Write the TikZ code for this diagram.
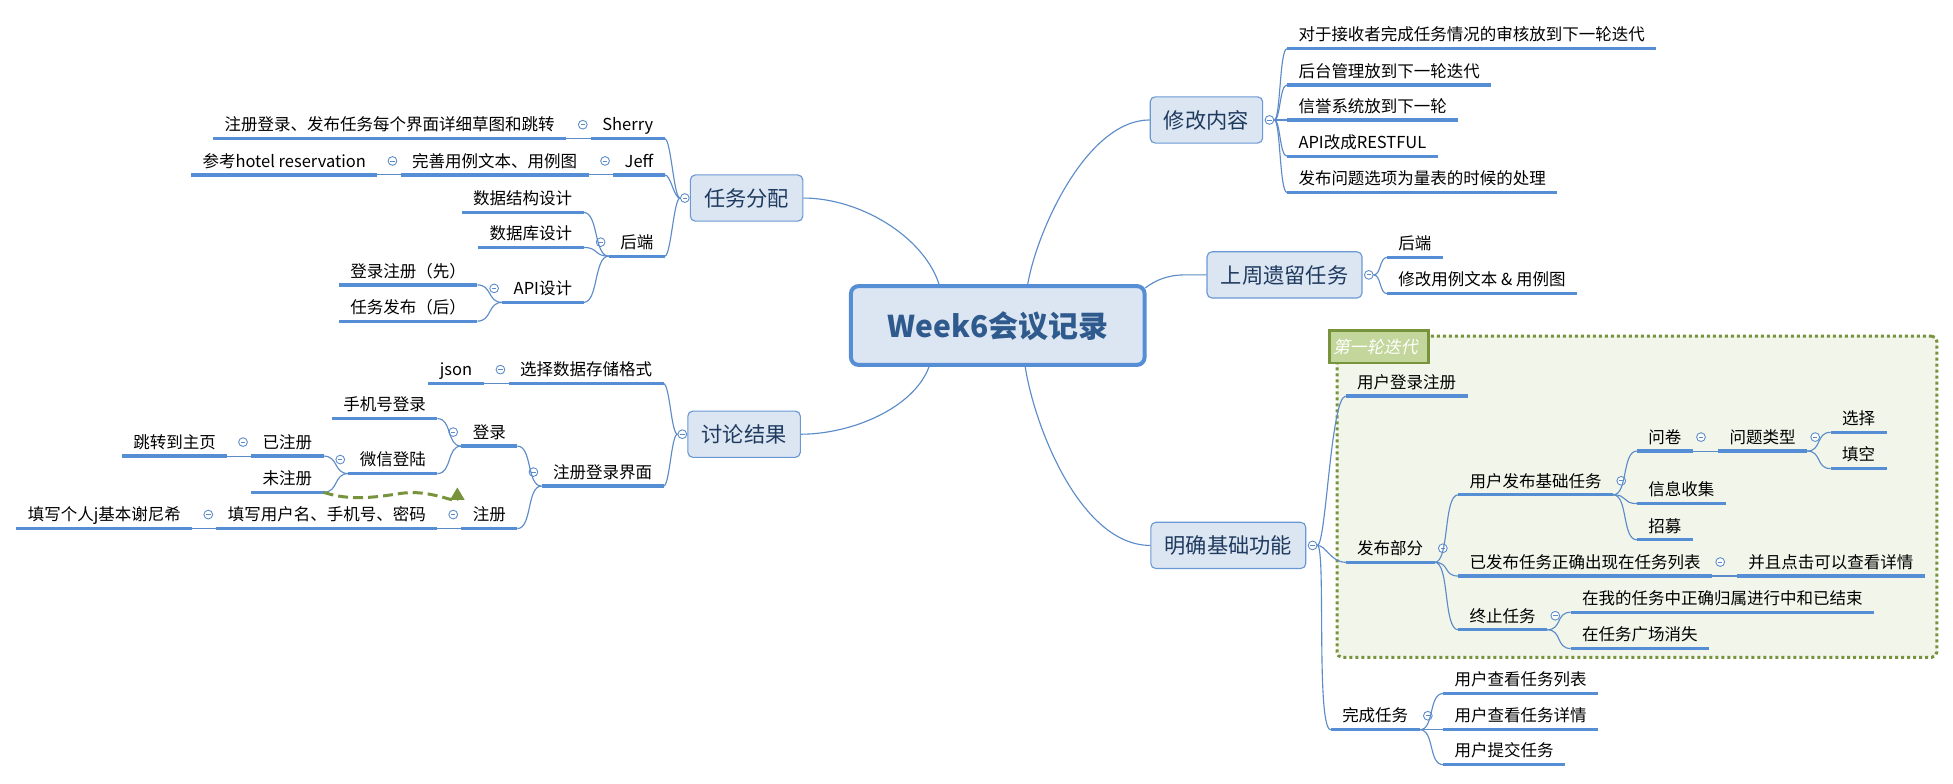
\documentclass[tikz,border=0pt]{standalone}
\usepackage{fontspec}
\setmainfont{Noto Sans CJK SC}
\newfontfamily\slfont[FakeSlant=0.22]{Noto Sans CJK SC}
\usetikzlibrary{calc,arrows.meta}
\definecolor{ulblue}{HTML}{558ED5}
\definecolor{lnblue}{HTML}{5B8BC8}
\definecolor{boxfill}{HTML}{DCE6F2}
\definecolor{boxline}{HTML}{6A98D4}
\definecolor{topictext}{HTML}{1F3A5F}
\definecolor{roottext}{HTML}{2F5A8E}
\definecolor{grnline}{HTML}{77933C}
\definecolor{lblfill}{HTML}{C3D69B}
\definecolor{areafill}{HTML}{F2F5EA}
\tikzset{
  leaf/.style={inner xsep=9pt, inner ysep=6pt, text height=10pt, text depth=0pt,
    font=\fontsize{13.2}{15}\selectfont, text=black,
    append after command={(\tikzlastnode.south west) edge[ulline] (\tikzlastnode.south east)}},
  lleaf/.style={leaf, anchor=south east},
  rleaf/.style={leaf, anchor=south west},
  ulline/.style={draw=ulblue, line width=2.6pt},
  conn/.style={draw=lnblue, line width=0.9pt},
  topic/.style={draw=boxline, fill=boxfill, line width=0.9pt, rounded corners=4pt,
    inner xsep=11pt, inner ysep=0pt, minimum height=37pt, text height=13pt, text depth=0pt,
    font=\fontsize{17}{20}\selectfont, text=topictext},
  rootbox/.style={draw=ulblue, fill=boxfill, line width=3.2pt, rounded corners=6pt,
    minimum width=235pt, minimum height=63pt, inner sep=0pt, text height=18.5pt, text depth=0pt,
    font=\bfseries\fontsize{24}{28}\selectfont, text=roottext},
  col/.style={circle, draw=lnblue, fill=white, line width=0.7pt, minimum size=7pt, inner sep=0pt,
    path picture={\draw[lnblue, line width=0.7pt] ([xshift=1.7pt]path picture bounding box.west) -- ([xshift=-1.7pt]path picture bounding box.east);}},
  area/.style={draw=grnline, fill=areafill, line width=2.4pt, dash pattern=on 2.4pt off 2.4pt, rounded corners=4pt},
  lbl/.style={draw=grnline, fill=lblfill, line width=2.2pt, text=white, anchor=west,
    inner xsep=2.5pt, inner ysep=0pt, text width=74pt, minimum height=26pt,
    text height=10.5pt, text depth=0pt, font=\slfont\fontsize{13.6}{15}\selectfont},
  rel/.style={draw=grnline, line width=2.4pt, dash pattern=on 8pt off 4pt,
    -{Triangle[length=10pt,width=11pt]}}
}
\newcommand\lcon[2]{\draw[conn] (#1.south west) .. controls +(-12,0) and +(12,0) .. (#2.south east);}
\newcommand\rcon[2]{\draw[conn] (#1.south east) .. controls +(12,0) and +(-12,0) .. (#2.south west);}
\begin{document}
\begin{tikzpicture}[x=1pt, y=-1pt]
\fill[white] (0,0) rectangle (1563,627);
\useasboundingbox (0,0) rectangle (1563,627);

% iteration area
\node[area, minimum width=480pt, minimum height=257pt, inner sep=0pt] (area) at (1310,397.5) {};
\node[lbl] (lbl) at (1063,277.5) {第一轮迭代};

% root and topics
\node[rootbox] (root) at (798.5,260.5) {Week6会议记录};
\node[topic] (t1) at (597.5,158.5) {任务分配};
\node[topic] (t2) at (595.5,347.5) {讨论结果};
\node[topic] (t3) at (965.5,96) {修改内容};
\node[topic] (t4) at (1028,220) {上周遗留任务};
\node[topic] (t5) at (983,436.5) {明确基础功能};
\node[col] (ct1) at ($(t1.west)+(-4,0)$) {};
\node[col] (ct2) at ($(t2.west)+(-4,0)$) {};
\node[col] (ct3) at ($(t3.east)+(5,0)$) {};
\node[col] (ct4) at ($(t4.east)+(5,0)$) {};
\node[col] (ct5) at ($(t5.east)+(5,0)$) {};

% root connectors
\draw[conn] ($(root.north)+(-47,0)$) .. controls (739,189) and (688,158.5) .. (t1.east);
\draw[conn] ($(root.north)+(24,0)$) .. controls (830,184) and (870,96) .. (t3.west);
\coordinate (j4) at (948,220);
\draw[conn] ($(root.north east)+(-1,3)$) .. controls (925,224) and (935,220) .. (j4) -- (t4.west);
\draw[conn] ($(root.south)+(-55,0)$) .. controls (731,327) and (681,347.5) .. (t2.east);
\draw[conn] ($(root.south)+(22,0)$) .. controls (828,342) and (865,436.5) .. (t5.west);

% ---------- 任务分配 ----------
\node[lleaf] (L1) at (532,111) {Sherry};
\node[lleaf] (L1a) at (453,111) {注册登录、发布任务每个界面详细草图和跳转};
\node[lleaf] (L2) at (532,140) {Jeff};
\node[lleaf] (L2a) at (471,140) {完善用例文本、用例图};
\node[lleaf] (L2b) at (302,140) {参考hotel reservation};
\node[lleaf] (L3) at (532,205) {后端};
\node[lleaf] (L3a) at (467,170) {数据结构设计};
\node[lleaf] (L3b) at (467,198) {数据库设计};
\node[lleaf] (L3c) at (467,242) {API设计};
\node[lleaf] (L3c1) at (382,228) {登录注册（先）};
\node[lleaf] (L3c2) at (382,257) {任务发布（后）};
\foreach \n in {L1,L2,L2a,L3,L3c} {\node[col] (c\n) at ($(\n.west)+(-6.5,0)$) {};}
\foreach \c in {L1,L2,L3} {\draw[conn] (ct1.west) .. controls +(-5,0) and +(5,0) .. (\c.south east);}
\lcon{L1}{L1a}
\lcon{L2}{L2a}
\lcon{L2a}{L2b}
\lcon{L3}{L3a}
\lcon{L3}{L3b}
\lcon{L3}{L3c}
\lcon{L3c}{L3c1}
\lcon{L3c}{L3c2}

% ---------- 讨论结果 ----------
\node[lleaf] (D1) at (531,307) {选择数据存储格式};
\node[lleaf] (D1a) at (387,307) {json};
\node[lleaf] (D2) at (531,389) {注册登录界面};
\node[lleaf] (D2a) at (414,357) {登录};
\node[lleaf] (D2a1) at (350,335) {手机号登录};
\node[lleaf] (D2a2) at (350,379) {微信登陆};
\node[lleaf] (D2a2a) at (259,365) {已注册};
\node[lleaf] (D2a2a1) at (182,365) {跳转到主页};
\node[lleaf] (D2a2b) at (259,394) {未注册};
\node[lleaf] (D2b) at (414,423) {注册};
\node[lleaf] (D2b1) at (350,423) {填写用户名、手机号、密码};
\node[lleaf] (D2b1a) at (154,423) {填写个人j基本谢尼希};
\foreach \n in {D1,D2,D2a,D2a2,D2a2a,D2b,D2b1} {\node[col] (c\n) at ($(\n.west)+(-6.5,0)$) {};}
\foreach \c in {D1,D2} {\draw[conn] (ct2.west) .. controls +(-5,0) and +(5,0) .. (\c.south east);}
\lcon{D1}{D1a}
\lcon{D2}{D2a}
\lcon{D2}{D2b}
\lcon{D2a}{D2a1}
\lcon{D2a}{D2a2}
\lcon{D2a2}{D2a2a}
\lcon{D2a2}{D2a2b}
\lcon{D2a2a}{D2a2a1}
\lcon{D2b}{D2b1}
\lcon{D2b1}{D2b1a}
\coordinate (arrtip) at (366,390);
\draw[rel] (D2a2b.south east) .. controls (280,401) and (300,398) .. (320,395) .. controls (345,391) and (366,404) .. (arrtip);

% ---------- 修改内容 ----------
\node[rleaf] (R1) at (1030,39) {对于接收者完成任务情况的审核放到下一轮迭代};
\node[rleaf] (R2) at (1030,68) {后台管理放到下一轮迭代};
\node[rleaf] (R3) at (1030,96) {信誉系统放到下一轮};
\node[rleaf] (R4) at (1030,125) {API改成RESTFUL};
\node[rleaf] (R5) at (1030,154) {发布问题选项为量表的时候的处理};
\foreach \c in {R1,R2,R3,R4,R5} {\draw[conn] (ct3.east) .. controls +(5,0) and +(-6,0) .. (\c.south west);}

% ---------- 上周遗留任务 ----------
\node[rleaf] (S1) at (1110,206) {后端};
\node[rleaf] (S2) at (1110,235) {修改用例文本 \& 用例图};
\foreach \c in {S1,S2} {\draw[conn] (ct4.east) .. controls +(6,0) and +(-6,0) .. (\c.south west);}

% ---------- 明确基础功能 ----------
\node[rleaf] (M1) at (1077,317) {用户登录注册};
\node[rleaf] (M2) at (1077,450) {发布部分};
\node[rleaf] (M2a) at (1167,396) {用户发布基础任务};
\node[rleaf] (M2a1) at (1310,361) {问卷};
\node[rleaf] (M2a1a) at (1375,361) {问题类型};
\node[rleaf] (M2a1a1) at (1465,346) {选择};
\node[rleaf] (M2a1a2) at (1465,375) {填空};
\node[rleaf] (M2a2) at (1310,403) {信息收集};
\node[rleaf] (M2a3) at (1310,432) {招募};
\node[rleaf] (M2b) at (1167,461) {已发布任务正确出现在任务列表};
\node[rleaf] (M2b1) at (1390,461) {并且点击可以查看详情};
\node[rleaf] (M2c) at (1167,504) {终止任务};
\node[rleaf] (M2c1) at (1257,490) {在我的任务中正确归属进行中和已结束};
\node[rleaf] (M2c2) at (1257,519) {在任务广场消失};
\node[rleaf] (M3) at (1065,584) {完成任务};
\node[rleaf] (M3a) at (1155,555) {用户查看任务列表};
\node[rleaf] (M3b) at (1155,584) {用户查看任务详情};
\node[rleaf] (M3c) at (1155,612) {用户提交任务};
\foreach \n in {M2,M2a,M2a1,M2a1a,M2b,M2c,M3} {\node[col] (c\n) at ($(\n.east)+(6.5,0)$) {};}
\foreach \c in {M1,M2,M3} {\draw[conn] (ct5.east) .. controls +(7,0) and +(-12,0) .. (\c.south west);}
\rcon{M2}{M2a}
\rcon{M2}{M2b}
\rcon{M2}{M2c}
\rcon{M2a}{M2a1}
\rcon{M2a}{M2a2}
\rcon{M2a}{M2a3}
\rcon{M2a1}{M2a1a}
\rcon{M2a1a}{M2a1a1}
\rcon{M2a1a}{M2a1a2}
\rcon{M2b}{M2b1}
\rcon{M2c}{M2c1}
\rcon{M2c}{M2c2}
\rcon{M3}{M3a}
\rcon{M3}{M3b}
\rcon{M3}{M3c}
\end{tikzpicture}
\end{document}
